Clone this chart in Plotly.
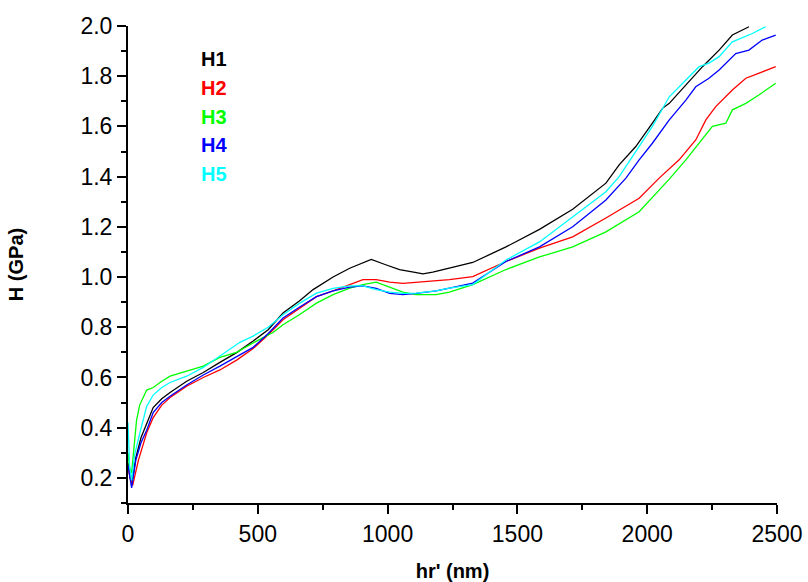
import plotly.graph_objects as go

# ---- data ----
series_names = ["H1", "H2", "H3", "H4", "H5"]
series_colors = ["#000000", "#FF0000", "#00FF00", "#0000FF", "#00FFFF"]

h1_x = [0, 8, 15, 30, 50, 72, 97, 130, 162, 226, 290, 354, 420, 482, 540, 597, 660, 713, 790, 854, 900, 937,
        990, 1046, 1100, 1136, 1174, 1238, 1328, 1456, 1585, 1713, 1841, 1892, 1956, 2020, 2059, 2085, 2149,
        2213, 2277, 2328, 2392]
h1_y = [0.26, 0.20, 0.18, 0.28, 0.36, 0.42, 0.48, 0.515, 0.54, 0.585, 0.62, 0.66, 0.70, 0.745, 0.79, 0.857,
        0.905, 0.95, 1.00, 1.035, 1.055, 1.07, 1.05, 1.03, 1.02, 1.013, 1.02, 1.035, 1.058, 1.12, 1.19, 1.27,
        1.374, 1.447, 1.52, 1.613, 1.672, 1.692, 1.765, 1.838, 1.904, 1.964, 1.997]

h2_x = [0, 8, 18, 40, 72, 97, 130, 162, 226, 290, 354, 420, 482, 540, 597, 660, 726, 790, 854, 905, 956,
        1008, 1059, 1110, 1187, 1238, 1328, 1456, 1585, 1713, 1841, 1969, 2046, 2123, 2187, 2226, 2264, 2328,
        2380, 2443, 2495]
h2_y = [0.25, 0.20, 0.17, 0.27, 0.38, 0.44, 0.49, 0.52, 0.565, 0.60, 0.63, 0.67, 0.715, 0.77, 0.83, 0.875,
        0.922, 0.945, 0.97, 0.99, 0.99, 0.98, 0.975, 0.98, 0.985, 0.99, 1.002, 1.062, 1.115, 1.16, 1.235,
        1.314, 1.394, 1.467, 1.546, 1.626, 1.679, 1.745, 1.792, 1.818, 1.838]

h3_x = [0, 6, 14, 22, 33, 45, 59, 72, 97, 130, 162, 226, 290, 354, 418, 495, 560, 597, 660, 726, 790, 854,
        905, 956, 1008, 1059, 1110, 1187, 1238, 1328, 1456, 1585, 1713, 1841, 1969, 2085, 2149, 2200, 2251,
        2303, 2328, 2380, 2430, 2495]
h3_y = [0.30, 0.24, 0.22, 0.32, 0.43, 0.49, 0.525, 0.55, 0.56, 0.585, 0.605, 0.625, 0.645, 0.68, 0.70, 0.745,
        0.78, 0.81, 0.85, 0.896, 0.93, 0.956, 0.97, 0.98, 0.96, 0.94, 0.93, 0.93, 0.94, 0.97, 1.03, 1.08,
        1.12, 1.18, 1.26, 1.39, 1.467, 1.533, 1.60, 1.613, 1.666, 1.692, 1.725, 1.772]

h4_x = [0, 8, 14, 30, 50, 72, 97, 130, 162, 226, 290, 354, 420, 482, 540, 597, 660, 726, 790, 854, 905, 956,
        1008, 1059, 1110, 1187, 1238, 1328, 1456, 1585, 1713, 1841, 1918, 1969, 2020, 2085, 2149, 2187, 2238,
        2277, 2341, 2392, 2443, 2495]
h4_y = [0.25, 0.19, 0.16, 0.27, 0.34, 0.39, 0.46, 0.50, 0.525, 0.57, 0.61, 0.645, 0.685, 0.72, 0.775, 0.837,
        0.88, 0.922, 0.945, 0.96, 0.965, 0.955, 0.935, 0.93, 0.935, 0.945, 0.956, 0.976, 1.062, 1.12, 1.20,
        1.307, 1.394, 1.467, 1.533, 1.626, 1.705, 1.758, 1.792, 1.825, 1.89, 1.904, 1.944, 1.964]

h5_x = [0, 6, 14, 25, 46, 72, 97, 130, 162, 226, 290, 354, 431, 482, 540, 597, 660, 726, 790, 854, 905, 956,
        1008, 1059, 1110, 1187, 1238, 1328, 1456, 1585, 1713, 1841, 1892, 1956, 2020, 2085, 2149, 2200, 2238,
        2277, 2328, 2405, 2456]
h5_y = [0.42, 0.25, 0.19, 0.29, 0.38, 0.485, 0.53, 0.56, 0.58, 0.605, 0.64, 0.685, 0.74, 0.765, 0.80, 0.85,
        0.895, 0.936, 0.955, 0.965, 0.965, 0.95, 0.94, 0.935, 0.936, 0.945, 0.956, 0.97, 1.068, 1.14, 1.24,
        1.34, 1.40, 1.50, 1.60, 1.718, 1.785, 1.838, 1.852, 1.878, 1.937, 1.97, 1.997]

xs = [h1_x, h2_x, h3_x, h4_x, h5_x]
ys = [h1_y, h2_y, h3_y, h4_y, h5_y]

x_title = "hr' (nm)"
y_title = "H (GPa)"

FONT = "Liberation Sans, Arial, sans-serif"

fig = go.Figure()
for name, color, x, y in zip(series_names, series_colors, xs, ys):
    fig.add_trace(go.Scatter(x=x, y=y, mode="lines", name=name,
                             line=dict(color=color, width=1.3), showlegend=False))

# colored text legend
for i, (name, color) in enumerate(zip(series_names, series_colors)):
    fig.add_annotation(xref="paper", yref="paper", x=0.109, y=0.931 - i * 0.0605,
                       xanchor="left", yanchor="middle", showarrow=False,
                       text="<b>%s</b>" % name, font=dict(family=FONT, size=20, color=color))

axis_common = dict(showline=True, linecolor="black", linewidth=2, ticks="outside", ticklen=9,
                   tickwidth=1.5, tickcolor="black", showgrid=False, zeroline=False, mirror=False,
                   automargin=False, tickfont=dict(family=FONT, size=23, color="black"))

fig.update_xaxes(range=[0, 2500], tick0=0, dtick=500,
                 minor=dict(ticks="outside", ticklen=5, tickwidth=1.5, tickcolor="black", dtick=250, showgrid=False),
                 title=dict(text="<b>%s</b>" % x_title, font=dict(family=FONT, size=20, color="black"), standoff=28),
                 **axis_common)
fig.update_yaxes(range=[0.1, 2.0], tick0=0.2, dtick=0.2, tickformat=".1f",
                 minor=dict(ticks="outside", ticklen=5, tickwidth=1.5, tickcolor="black", tick0=0.1, dtick=0.1, showgrid=False),
                 title=dict(text="<b>%s</b>" % y_title, font=dict(family=FONT, size=20, color="black"), standoff=51),
                 **axis_common)

fig.update_layout(width=808, height=582, margin=dict(l=128, r=31, t=26, b=79),
                  plot_bgcolor="white", paper_bgcolor="white")

fig.write_html("out.html", config={"displayModeBar": False},
               post_script="document.body.style.margin='0';document.body.style.overflow='hidden';")
